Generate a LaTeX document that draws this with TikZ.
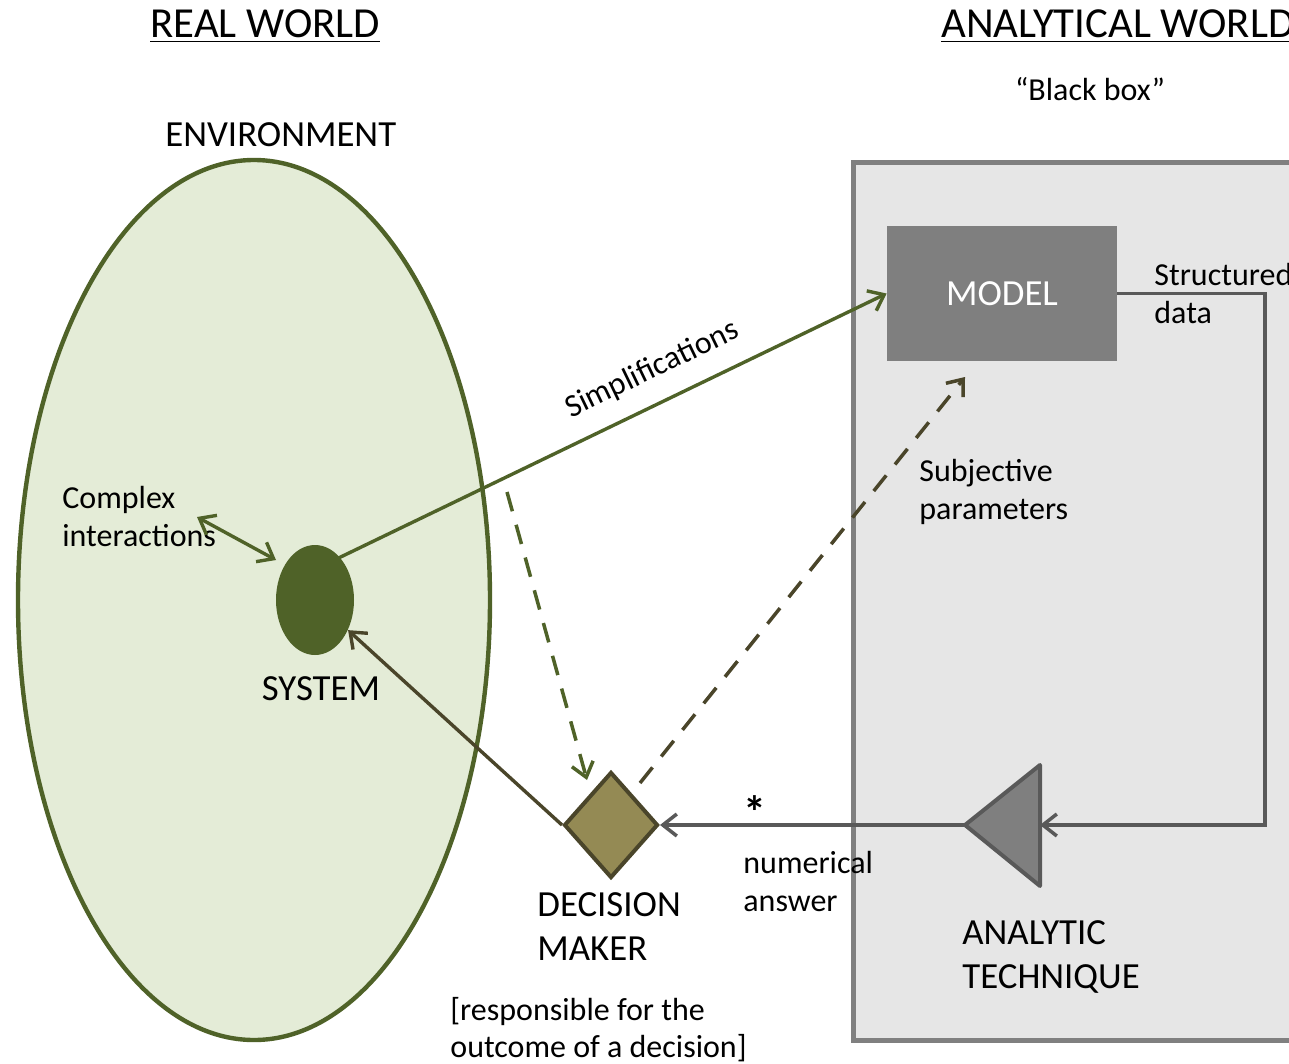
\documentclass[tikz,border=0pt]{standalone}
\usepackage{fontspec}
\setmainfont{Carlito}
\usetikzlibrary{arrows.meta,shapes.geometric}

\definecolor{olive}{HTML}{4F6228}
\definecolor{envfill}{HTML}{E4ECD7}
\definecolor{tanfill}{HTML}{948A54}
\definecolor{tandark}{HTML}{4A452A}
\definecolor{boxfill}{HTML}{E6E6E6}
\definecolor{boxline}{HTML}{808080}
\definecolor{midgray}{HTML}{7F7F7F}
\definecolor{darkgray}{HTML}{595959}

\tikzset{
  tip/.style={-{Straight Barb[length=7pt,width=11pt]}},
  lbl/.style={inner sep=0pt, align=left, font=\fontsize{16}{19}\selectfont},
  biglbl/.style={inner sep=0pt, align=left, font=\fontsize{18.4}{22}\selectfont},
  title/.style={inner sep=0pt, font=\fontsize{21.4}{25}\selectfont},
  olivearrow/.style={tip, draw=olive, line width=1.7pt},
  dasharrow/.style={tip, line width=1.75pt, dash pattern=on 10pt off 7pt},
  grayarrow/.style={tip, draw=darkgray, line width=1.75pt},
}

\begin{document}
\begin{tikzpicture}[x=0.5pt,y=-0.5pt]
\useasboundingbox (0,0) rectangle (1289,1064);
\clip (0,0) rectangle (1289,1064);

% headings
\node[title, anchor=base west] (real) at (150,38) {\underline{REAL WORLD}};
\node[title, anchor=base west] (anal) at (941,38) {\underline{ANALYTICAL WORLD}};
\node[lbl, anchor=center] (bbox) at (1090,89) {“Black box”};

% analytical frame
\node[draw=boxline, fill=boxfill, line width=2.5pt, minimum width=240pt,
      minimum height=439pt, inner sep=0pt, anchor=north west] (frame) at (851,160) {};

% environment and system
\node[biglbl, anchor=base west] (envlbl) at (165,147) {ENVIRONMENT};
\node[ellipse, draw=olive, fill=envfill, line width=2.2pt, minimum width=236pt,
      minimum height=440pt, inner sep=0pt] (env) at (254,600) {};
\node[ellipse, fill=olive, minimum width=39pt, minimum height=55pt,
      inner sep=0pt] (sys) at (315,600) {};
\node[biglbl, anchor=base] (syslbl) at (321,700) {SYSTEM};
\node[lbl, anchor=west] (cplx) at (62,517) {Complex\\interactions};

% model
\node[fill=midgray, minimum width=115pt, minimum height=67.5pt, inner sep=0pt,
      text=white, font=\fontsize{18.4}{22}\selectfont] (model) at (1002,293.5) {MODEL};
\node[lbl, anchor=west] (sdata) at (1154,294) {Structured\\data};

% analytic technique
\draw[draw=darkgray, fill=midgray, line width=2pt, line join=round]
  (965,825) coordinate (tapex) -- (1040,765) -- (1040,886) -- cycle;
\coordinate (tback) at (1040,825);
\node[biglbl, anchor=west] (techlbl) at (962,957) {ANALYTIC\\TECHNIQUE};

% decision maker
\node[diamond, draw=tandark, fill=tanfill, line width=2pt, minimum width=47pt,
      minimum height=53pt, inner sep=0pt] (dm) at (611,825) {};
\node[biglbl, anchor=west] (dmlbl) at (537,927) {DECISION\\MAKER};
\node[lbl, anchor=west, font=\fontsize{16}{18.5}\selectfont] (resp) at (450,1030)
  {[responsible for the\\outcome of a decision]};

% connectors
\coordinate (cplxA) at (197,517);
\coordinate (cplxB) at (276,560);
\draw[olivearrow, {Straight Barb[length=7pt,width=11pt]}-{Straight Barb[length=7pt,width=11pt]}]
  (cplxA) -- (cplxB);

\path (sys.north east) ++(-6,-2) coordinate (simpA);
\draw[olivearrow] (simpA) -- node[lbl, sloped, above=9pt, pos=0.6] (simplbl) {Simplifications} (model.west);

\draw[tip, draw=tandark, line width=1.7pt] (dm.west) -- (sys);

\coordinate (dgA) at (507,492);
\coordinate (dgB) at (587,780);
\draw[dasharrow, draw=olive] (dgA) -- (dgB);

\coordinate (ddA) at (640,783);
\coordinate (ddB) at (965,377);
\draw[dasharrow, draw=tandark] (ddA) -- (ddB);
\node[lbl, anchor=west] (subj) at (919,492) {Subjective\\parameters};

\coordinate (bendA) at (1265,293.5);
\coordinate (bendB) at (1265,825);
\draw[grayarrow] (model.east) -- (bendA) -- (bendB) -- (tback);
\draw[grayarrow] (tapex) -- (dm.east);

\node[inner sep=0pt, font=\fontsize{23}{25}\selectfont\bfseries] (star) at (755,812) {*};
\node[lbl, anchor=west] (num) at (743,881) {numerical\\answer};
\end{tikzpicture}
\end{document}
